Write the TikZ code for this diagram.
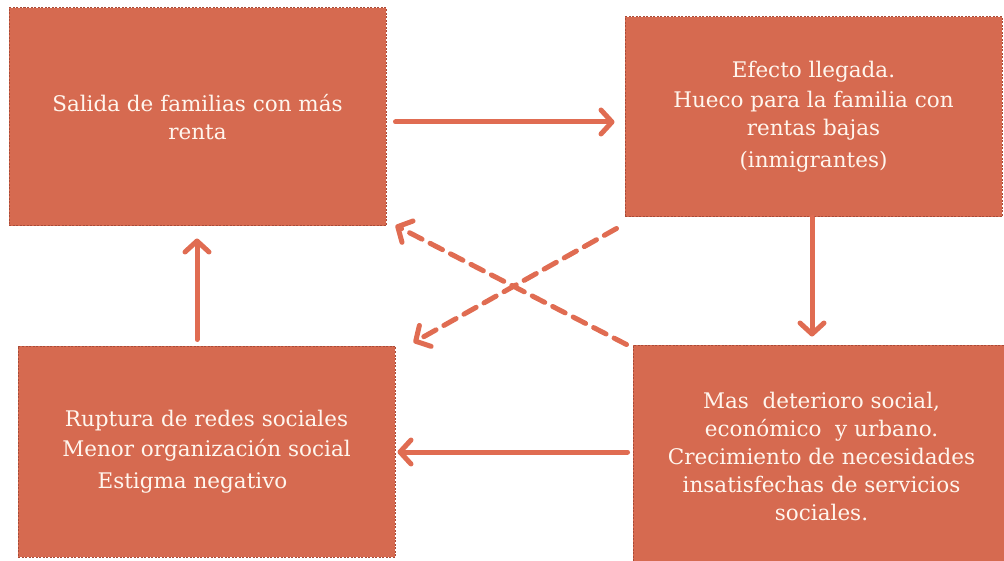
\documentclass[tikz,border=0pt]{standalone}
\usepackage{fontspec}
\setmainfont{DejaVu Serif}
\usetikzlibrary{arrows.meta}
\definecolor{boxfill}{RGB}{214,106,80}
\definecolor{boxedge}{RGB}{170,75,55}
\definecolor{arrowc}{RGB}{224,108,82}
\definecolor{txt}{RGB}{255,246,238}
\tikzset{
  card/.style={rectangle, fill=boxfill, draw=boxedge, line width=1pt, dash pattern=on 2pt off 1.5pt,
    inner sep=0pt, text=txt, align=center, font=\fontsize{21.5}{28}\selectfont},
  flow/.style={draw=arrowc, line width=5pt, line cap=round,
    -{Straight Barb[length=11pt,width=24pt,line cap=round,line join=round]}},
  flowdash/.style={flow, dash pattern=on 14pt off 9pt}
}
\begin{document}
\begin{tikzpicture}[x=1pt,y=-1pt]
\useasboundingbox (0,0) rectangle (1004,561);
\clip (0,0) rectangle (1004,561);
\node[card, minimum width=377pt, minimum height=218pt] (A) at (197.5,117)
  {Salida de familias con más\\renta};
\node[card, minimum width=377pt, minimum height=200pt] (B) at (813.5,117)
  {Efecto llegada.\\[2pt]Hueco para la familia con\\rentas bajas\\[4pt](inmigrantes)};
\node[card, minimum width=377pt, minimum height=211pt] (C) at (206.5,451.5)
  {Ruptura de redes sociales\\[2pt]Menor organización social\\[4pt]Estigma negativo\hspace*{28pt}};
\node[card, minimum width=377pt, minimum height=222pt] (D) at (821.5,456)
  {Mas\ \ deterioro social,\\económico\ \ y urbano.\\Crecimiento de necesidades\\insatisfechas de servicios\\sociales.};
\draw[flow] ([shift={(9,5)}]A.east) -- ([shift={(-10,5)}]B.west);
\draw[flow] ([shift={(-1.5,0)}]B.south) -- ([shift={(-9.5,-8)}]D.north);
\draw[flow] ([shift={(-5,-4)}]D.west) -- ([shift={(2,0.5)}]C.east);
\draw[flow] ([shift={(-9.5,-6)}]C.north) -- ([shift={(-0.5,12)}]A.south);
\draw[flowdash] ([shift={(-8,11)}]B.south west) -- ([shift={(18,-3)}]C.north east);
\draw[flowdash] ([shift={(-6,0)}]D.north west) -- ([shift={(9,-1)}]A.south east);
\end{tikzpicture}
\end{document}
